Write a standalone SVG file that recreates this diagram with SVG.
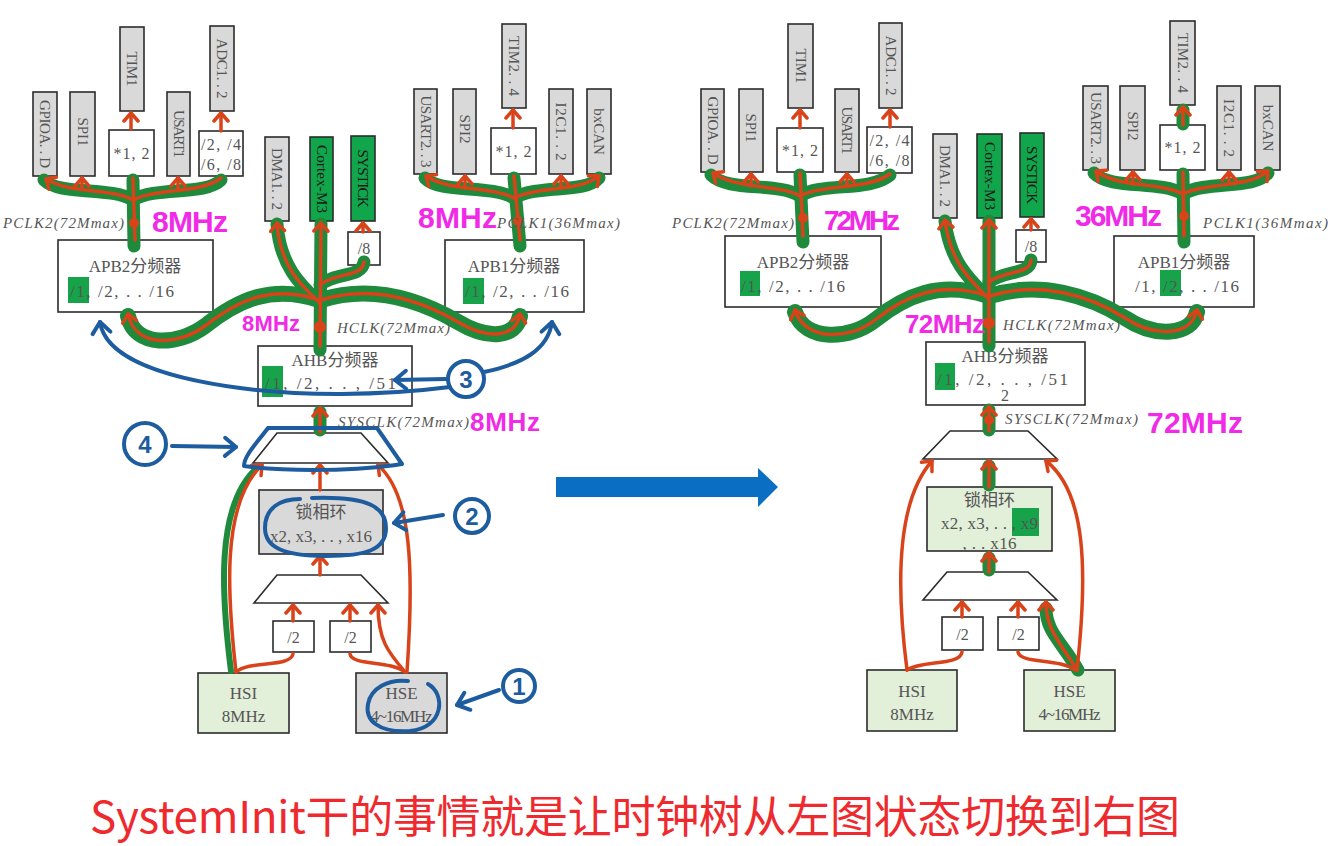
<svg xmlns="http://www.w3.org/2000/svg" width="1335" height="846" viewBox="0 0 1335 846">
<style>
.bx{stroke:#2b2b2b;stroke-width:1.6}
.gy{fill:#d9d9d9}.wh{fill:#fff}.gn{fill:#12a64c}.lg{fill:#e2efd9}
.t{font-family:"Liberation Serif","Noto Sans CJK SC",serif;font-size:15px;fill:#555;text-anchor:middle}
.ts{text-anchor:start}
.h{font-size:16px}
.k{font-size:17px}
.td{fill:#1a1a1a}
.it{font-family:"Liberation Serif",serif;font-style:italic;font-size:15px;fill:#555}
.g{stroke:#1f8a3b;stroke-width:13;fill:none;stroke-linecap:round;stroke-linejoin:round}
.gw{stroke-width:16}
.gt{stroke:#1f8a3b;stroke-width:6;fill:none;stroke-linecap:round}
.r{stroke:#d8431a;stroke-width:3.5;fill:none;stroke-linecap:round;stroke-linejoin:round}
.ra{marker-end:url(#ah)}
.dot{fill:#d8431a}
.hl{fill:#16a34a}
.b{stroke:#1d5c9e;stroke-width:4;fill:none;stroke-linecap:round;stroke-linejoin:round}
.bn{font-family:"Liberation Sans",sans-serif;font-size:24px;font-weight:bold;fill:#1d5c9e;text-anchor:middle}
.m{fill:#f02ae6;font-family:"Liberation Sans",sans-serif;font-weight:bold}
</style>
<defs>
<marker id="ah" markerUnits="userSpaceOnUse" markerWidth="18" markerHeight="18" viewBox="0 0 18 18" refX="12" refY="9" orient="auto">
<path d="M4,2 L12,9 L4,16" stroke="#d8431a" stroke-width="3.5" fill="none" stroke-linecap="round" stroke-linejoin="round"/>
</marker>
<marker id="bh" markerUnits="userSpaceOnUse" markerWidth="24" markerHeight="24" viewBox="0 0 24 24" refX="16" refY="12" orient="auto">
<path d="M5,3 L16,12 L5,21" stroke="#1d5c9e" stroke-width="4" fill="none" stroke-linecap="round" stroke-linejoin="round"/>
</marker>
</defs>
<rect width="1335" height="846" fill="#fff"/>

<!-- ===== LEFT DIAGRAM NODES ===== -->
<g id="L-GPIO"><rect class="bx gy" x="33" y="92" width="24" height="84"/><text class="t" transform="translate(45,134) rotate(90)" dy="5" textLength="68">GPIOA. . D</text></g>
<g id="L-SPI1"><rect class="bx gy" x="70" y="92" width="25" height="84"/><text class="t" transform="translate(82.5,132) rotate(90)" dy="5">SPI1</text></g>
<g id="L-TIM1"><rect class="bx gy" x="120" y="27" width="24" height="84"/><text class="t" transform="translate(132,69) rotate(90)" dy="5">TIM1</text></g>
<g id="L-MUL1"><rect class="bx wh" x="109" y="130" width="45" height="46"/><text class="t h" x="131.5" y="159" textLength="36">*1, 2</text></g>
<g id="L-USART1"><rect class="bx gy" x="167" y="92" width="23" height="84"/><text class="t" transform="translate(178.5,134) rotate(90)" dy="5" textLength="48">USART1</text></g>
<g id="L-ADCDIV"><rect class="bx wh" x="199" y="131" width="44" height="45"/><text class="t h" x="221" y="150" textLength="40">/2, /4</text><text class="t h" x="221" y="170" textLength="40">/6, /8</text></g>
<g id="L-ADC"><rect class="bx gy" x="210" y="26" width="24" height="85"/><text class="t" transform="translate(222,68.5) rotate(90)" dy="5" textLength="60">ADC1. . 2</text></g>
<g id="L-DMA"><rect class="bx gy" x="265" y="137" width="24" height="84"/><text class="t" transform="translate(277,179) rotate(90)" dy="5" textLength="62">DMA1. . 2</text></g>
<g id="L-CORTEX"><rect class="bx gn" x="310" y="137" width="23" height="84"/><text class="t td" transform="translate(321.5,179) rotate(90)" dy="5" textLength="68">Cortex-M3</text></g>
<g id="L-SYSTICK"><rect class="bx gn" x="351" y="136" width="24" height="85"/><text class="t td" transform="translate(363,178.5) rotate(90)" dy="5" textLength="58">SYSTICK</text></g>
<g id="L-DIV8"><rect class="bx wh" x="348" y="232" width="32" height="33"/><text class="t h" x="364" y="254">/8</text></g>
<g id="L-APB2"><rect class="bx wh" x="58" y="240" width="155" height="72"/><rect class="hl" x="68" y="277" width="21" height="26"/><text class="t k" x="135" y="272">APB2分频器</text><text class="t k ts" x="70" y="297" textLength="104">/1, /2, . . /16</text></g>
<g id="L-APB1"><rect class="bx wh" x="445" y="240" width="139" height="72"/><rect class="hl" x="463" y="278" width="21" height="26"/><text class="t k" x="514" y="272">APB1分频器</text><text class="t k ts" x="465" y="297" textLength="104">/1, /2, . . /16</text></g>
<g id="L-USART2"><rect class="bx gy" x="414" y="89" width="23" height="85"/><text class="t" transform="translate(425.5,131.5) rotate(90)" dy="5" textLength="72">USART2. . 3</text></g>
<g id="L-SPI2"><rect class="bx gy" x="453" y="89" width="23" height="85"/><text class="t" transform="translate(464.5,129) rotate(90)" dy="5">SPI2</text></g>
<g id="L-TIM2"><rect class="bx gy" x="502" y="24" width="24" height="84"/><text class="t" transform="translate(514,66) rotate(90)" dy="5" textLength="60">TIM2. . 4</text></g>
<g id="L-MUL2"><rect class="bx wh" x="491" y="128" width="45" height="46"/><text class="t h" x="513.5" y="157" textLength="36">*1, 2</text></g>
<g id="L-I2C"><rect class="bx gy" x="549" y="89" width="24" height="85"/><text class="t" transform="translate(561,131.5) rotate(90)" dy="5" textLength="58">I2C1. . 2</text></g>
<g id="L-CAN"><rect class="bx gy" x="587" y="89" width="24" height="85"/><text class="t" transform="translate(599,131.5) rotate(90)" dy="5">bxCAN</text></g>
<g id="L-AHB"><rect class="bx wh" x="258" y="346" width="154" height="60"/><rect class="hl" x="262" y="366" width="21" height="31"/><text class="t k" x="335" y="366">AHB分频器</text><text class="t k ts" x="265" y="389" textLength="131">/1, /2, . . , /51</text></g>
<g id="L-MUXU"><polygon class="bx wh" points="277,433 361,433 388,463 253,463"/></g>
<g id="L-PLL"><rect class="bx gy" x="259" y="490" width="124" height="64"/><text class="t k" x="321" y="518">锁相环</text><text class="t k" x="321" y="542" textLength="102">x2, x3, . . , x16</text></g>
<g id="L-MUXL"><polygon class="bx wh" points="277,575 361,575 388,603 254,603"/></g>
<g id="L-D2A"><rect class="bx wh" x="273" y="621" width="41" height="31"/><text class="t h" x="293.5" y="643">/2</text></g>
<g id="L-D2B"><rect class="bx wh" x="330" y="621" width="41" height="31"/><text class="t h" x="350.5" y="643">/2</text></g>
<g id="L-HSI"><rect class="bx lg" x="198" y="673" width="91" height="60"/><text class="t k" x="243.5" y="699">HSI</text><text class="t k" x="243.5" y="722">8MHz</text></g>
<g id="L-HSE"><rect class="bx gy" x="356" y="673" width="91" height="60"/><text class="t k" x="401.5" y="699">HSE</text><text class="t k" x="401.5" y="722" textLength="62">4~16MHz</text></g>

<!-- ===== RIGHT DIAGRAM NODES ===== -->
<g id="R-GPIO"><rect class="bx gy" x="701" y="89" width="23" height="83"/><text class="t" transform="translate(712.5,130.5) rotate(90)" dy="5" textLength="68">GPIOA. . D</text></g>
<g id="R-SPI1"><rect class="bx gy" x="739" y="89" width="24" height="83"/><text class="t" transform="translate(751,128) rotate(90)" dy="5">SPI1</text></g>
<g id="R-TIM1"><rect class="bx gy" x="788" y="24" width="25" height="84"/><text class="t" transform="translate(800.5,66) rotate(90)" dy="5">TIM1</text></g>
<g id="R-MUL1"><rect class="bx wh" x="777" y="128" width="46" height="44"/><text class="t h" x="800" y="156" textLength="36">*1, 2</text></g>
<g id="R-USART1"><rect class="bx gy" x="835" y="89" width="24" height="83"/><text class="t" transform="translate(847,130.5) rotate(90)" dy="5" textLength="48">USART1</text></g>
<g id="R-ADCDIV"><rect class="bx wh" x="867" y="127" width="45" height="46"/><text class="t h" x="889.5" y="146" textLength="40">/2, /4</text><text class="t h" x="889.5" y="166" textLength="40">/6, /8</text></g>
<g id="R-ADC"><rect class="bx gy" x="879" y="23" width="23" height="85"/><text class="t" transform="translate(890.5,65.5) rotate(90)" dy="5" textLength="60">ADC1. . 2</text></g>
<g id="R-DMA"><rect class="bx gy" x="933" y="134" width="24" height="84"/><text class="t" transform="translate(945,176) rotate(90)" dy="5" textLength="62">DMA1. . 2</text></g>
<g id="R-CORTEX"><rect class="bx gn" x="977" y="134" width="25" height="84"/><text class="t td" transform="translate(989.5,176) rotate(90)" dy="5" textLength="68">Cortex-M3</text></g>
<g id="R-SYSTICK"><rect class="bx gn" x="1020" y="133" width="24" height="84"/><text class="t td" transform="translate(1032,175) rotate(90)" dy="5" textLength="58">SYSTICK</text></g>
<g id="R-DIV8"><rect class="bx wh" x="1016" y="230" width="30" height="32"/><text class="t h" x="1031" y="252">/8</text></g>
<g id="R-APB2"><rect class="bx wh" x="725" y="236" width="156" height="71"/><rect class="hl" x="740" y="271" width="20" height="25"/><text class="t k" x="803" y="268">APB2分频器</text><text class="t k ts" x="741" y="292" textLength="104">/1, /2, . . /16</text></g>
<g id="R-APB1"><rect class="bx wh" x="1114" y="236" width="140" height="71"/><rect class="hl" x="1160" y="270" width="21" height="26"/><text class="t k" x="1184" y="268">APB1分频器</text><text class="t k ts" x="1135" y="292" textLength="104">/1, /2, . . /16</text></g>
<g id="R-USART2"><rect class="bx gy" x="1083" y="86" width="25" height="84"/><text class="t" transform="translate(1095.5,128) rotate(90)" dy="5" textLength="72">USART2. . 3</text></g>
<g id="R-SPI2"><rect class="bx gy" x="1120" y="86" width="25" height="84"/><text class="t" transform="translate(1132.5,126) rotate(90)" dy="5">SPI2</text></g>
<g id="R-TIM2"><rect class="bx gy" x="1170" y="21" width="25" height="84"/><text class="t" transform="translate(1182.5,63) rotate(90)" dy="5" textLength="60">TIM2. . 4</text></g>
<g id="R-MUL2"><rect class="bx wh" x="1160" y="125" width="45" height="45"/><text class="t h" x="1182.5" y="153" textLength="36">*1, 2</text></g>
<g id="R-I2C"><rect class="bx gy" x="1217" y="86" width="24" height="84"/><text class="t" transform="translate(1229,128) rotate(90)" dy="5" textLength="58">I2C1. . 2</text></g>
<g id="R-CAN"><rect class="bx gy" x="1255" y="86" width="25" height="84"/><text class="t" transform="translate(1267.5,128) rotate(90)" dy="5">bxCAN</text></g>
<g id="R-AHB"><rect class="bx wh" x="926" y="342" width="159" height="63"/><rect class="hl" x="935" y="363" width="20" height="27"/><text class="t k" x="1005" y="362">AHB分频器</text><text class="t k ts" x="937" y="385" textLength="131">/1, /2, . . , /51</text><text class="t h" x="1005" y="401">2</text></g>
<g id="R-MUXU"><polygon class="bx wh" points="950,431 1028,431 1057,459 923,459"/></g>
<g id="R-PLL"><rect class="bx lg" x="927" y="487" width="125" height="64"/><rect class="hl" x="1012" y="508" width="27" height="28"/><text class="t k" x="989.5" y="506">锁相环</text><text class="t k ts" x="941" y="529" textLength="97">x2, x3, . . , x9</text><text class="t k" x="989.5" y="549" textLength="54">, . . x16</text></g>
<g id="R-MUXL"><polygon class="bx wh" points="947,572 1028,572 1057,600 923,600"/></g>
<g id="R-D2A"><rect class="bx wh" x="942" y="617" width="41" height="33"/><text class="t h" x="962.5" y="640">/2</text></g>
<g id="R-D2B"><rect class="bx wh" x="998" y="617" width="41" height="33"/><text class="t h" x="1018.5" y="640">/2</text></g>
<g id="R-HSI"><rect class="bx lg" x="867" y="670" width="90" height="61"/><text class="t k" x="912" y="697">HSI</text><text class="t k" x="912" y="720">8MHz</text></g>
<g id="R-HSE"><rect class="bx lg" x="1024" y="670" width="91" height="61"/><text class="t k" x="1069.5" y="697">HSE</text><text class="t k" x="1069.5" y="720" textLength="62">4~16MHz</text></g>

<!-- ===== CONNECTORS ===== -->
<g id="connectors">
<!-- left green highlights -->
<path class="g" d="M134,246 L133,180"/>
<path class="g" d="M44,180 C60,196 110,186 133,200 C156,186 205,196 221,180"/>
<path class="g" d="M320,350 L321,224"/>
<path class="g" d="M319,302 C300,285 280,265 277,224"/>
<path class="g" d="M320,285 C335,272 362,278 364,262"/>
<path class="g gw" d="M319,300 C272,284 238,300 205,326 C178,346 135,348 128,316"/>
<path class="g gw" d="M321,300 C372,284 420,300 458,322 C488,340 516,338 520,316"/>
<path class="g" d="M320,430 L320,412"/>
<path class="g" d="M520,246 L514,178"/>
<path class="g" d="M425,178 C440,194 490,184 514,198 C538,184 585,194 599,178"/>
<path class="gt" d="M231,671 C222,600 214,505 258,467"/>
<!-- left red -->
<path class="r" d="M135,240 L133,178"/>
<path class="r ra" d="M133,200 C112,188 70,194 46,179"/>
<path class="r ra" d="M82,189 L82,178"/>
<path class="r" d="M133,200 C156,188 200,194 221,178"/>
<path class="r ra" d="M178,190 L178,178"/>
<path class="r ra" d="M131,129 L131,113"/>
<path class="r ra" d="M221,131 L221,113"/>
<circle class="dot" cx="134" cy="223" r="5"/>
<path class="r ra" d="M320,346 L321,223"/>
<path class="r ra" d="M319,302 C300,285 280,265 277,223"/>
<path class="r" d="M320,285 C335,272 362,278 364,262"/>
<path class="r ra" d="M363,232 L363,223"/>
<path class="r ra" d="M319,300 C272,284 238,300 205,326 C178,346 135,348 128,314"/>
<path class="r ra" d="M321,300 C372,284 420,300 458,322 C488,340 516,338 520,314"/>
<circle class="dot" cx="320" cy="327" r="6"/>
<path class="r ra" d="M320,432 L320,408"/>
<path class="r" d="M520,240 L514,176"/>
<path class="r ra" d="M514,198 C492,186 450,192 426,176"/>
<path class="r ra" d="M465,188 L465,176"/>
<path class="r ra" d="M514,198 C538,186 580,192 599,176"/>
<path class="r ra" d="M561,188 L561,176"/>
<path class="r ra" d="M513,128 L513,110"/>
<circle class="dot" cx="518" cy="221" r="5"/>
<path class="r ra" d="M236,672 C228,600 220,505 262,465"/>
<path class="r" d="M236,672 C250,660 290,668 293,654"/>
<path class="r ra" d="M293,621 L293,605"/>
<path class="r ra" d="M350,621 L350,605"/>
<path class="r" d="M405,672 C390,660 352,666 350,654"/>
<path class="r ra" d="M405,672 C388,652 378,640 378,605"/>
<path class="r ra" d="M407,672 C414,570 412,495 378,465"/>
<path class="r ra" d="M320,575 L320,556"/>
<path class="r ra" d="M320,490 L320,465"/>

<!-- right green highlights -->
<path class="g" d="M803,242 L800,175"/>
<path class="g" d="M711,175 C728,192 778,182 800,196 C822,182 870,192 890,175"/>
<path class="g" d="M989,346 L989,221"/>
<path class="g" d="M988,298 C970,280 950,262 945,221"/>
<path class="g" d="M989,282 C1005,270 1030,275 1031,260"/>
<path class="g gw" d="M988,296 C940,280 905,296 875,320 C850,340 805,342 795,312"/>
<path class="g gw" d="M990,296 C1040,280 1090,296 1125,318 C1155,338 1192,336 1197,312"/>
<path class="g" d="M1184,242 L1183,174"/>
<path class="g" d="M1094,173 C1110,190 1160,180 1183,194 C1206,180 1255,190 1268,173"/>
<path class="g" d="M1183,124 L1183,110"/>
<path class="g" d="M989,430 L989,410"/>
<path class="g" d="M989,485 L989,466"/>
<path class="g" d="M989,570 L989,558"/>
<path class="g" stroke-width="9" d="M1078,670 C1062,642 1046,632 1046,608"/>
<!-- right red -->
<path class="r" d="M803,236 L800,173"/>
<path class="r ra" d="M800,196 C780,184 738,190 713,173"/>
<path class="r ra" d="M751,186 L751,174"/>
<path class="r" d="M800,196 C822,184 868,190 890,174"/>
<path class="r ra" d="M847,186 L847,174"/>
<path class="r ra" d="M800,128 L800,110"/>
<path class="r ra" d="M890,127 L890,110"/>
<circle class="dot" cx="803" cy="218" r="5"/>
<path class="r ra" d="M989,342 L989,220"/>
<path class="r ra" d="M988,298 C970,280 950,262 945,220"/>
<path class="r" d="M989,282 C1005,270 1030,275 1031,260"/>
<path class="r ra" d="M1031,230 L1031,219"/>
<path class="r ra" d="M988,296 C940,280 905,296 875,320 C850,340 805,342 795,310"/>
<path class="r ra" d="M990,296 C1040,280 1090,296 1125,318 C1155,338 1192,336 1197,310"/>
<circle class="dot" cx="989" cy="323" r="6"/>
<path class="r" d="M1184,236 L1183,172"/>
<path class="r ra" d="M1183,194 C1160,182 1118,188 1096,171"/>
<path class="r ra" d="M1133,184 L1133,172"/>
<path class="r ra" d="M1183,194 C1206,182 1250,188 1268,171"/>
<path class="r ra" d="M1229,184 L1229,172"/>
<path class="r ra" d="M1183,125 L1183,107"/>
<circle class="dot" cx="1184" cy="216" r="5"/>
<path class="r ra" d="M989,431 L989,407"/>
<circle class="dot" cx="989" cy="420" r="5"/>
<path class="r ra" d="M989,487 L989,461"/>
<path class="r ra" d="M989,572 L989,553"/>
<path class="r ra" d="M907,670 C898,600 893,505 932,461"/>
<path class="r" d="M907,670 C922,660 960,666 962,652"/>
<path class="r ra" d="M962,617 L962,602"/>
<path class="r ra" d="M1018,617 L1018,602"/>
<path class="r" d="M1075,670 C1060,658 1020,664 1018,652"/>
<path class="r ra" d="M1077,670 C1060,642 1046,630 1046,602"/>
<path class="r ra" d="M1077,670 C1088,570 1086,492 1046,461"/>

<!-- blue annotations (left) -->
<path class="b" d="M268,428 L377,428 L402,464 C360,471 290,472 244,466 C244,456 256,444 268,428"/>
<circle class="b" cx="145" cy="444" r="21"/>
<text class="bn" x="145" y="453">4</text>
<path class="b" d="M172,446 L236,447" marker-end="url(#bh)"/>
<path class="b" d="M312,498 C370,496 386,508 386,528 C386,550 366,556 326,556 C285,556 265,548 265,528 C265,508 280,499 300,499"/>
<circle class="b" cx="472" cy="516" r="17"/>
<text class="bn" x="472" y="525">2</text>
<path class="b" d="M443,515 L394,523" marker-end="url(#bh)"/>
<path class="b" d="M428,684 C446,694 444,728 410,731 C378,733 365,720 368,704 C371,688 388,679 408,681"/>
<circle class="b" cx="519" cy="686" r="16"/>
<text class="bn" x="519" y="695">1</text>
<path class="b" d="M499,690 L457,705" marker-end="url(#bh)"/>
<circle class="b" cx="466" cy="379" r="18"/>
<text class="bn" x="466" y="388">3</text>
<path class="b" d="M446,379 L395,380" marker-end="url(#bh)"/>
<path class="b" d="M450,387 C380,396 300,396 240,388 C165,378 105,358 100,322" marker-end="url(#bh)"/>
<path class="b" d="M484,372 C522,364 548,350 552,322" marker-end="url(#bh)"/>
</g>

<!-- ===== CLOCK LABELS ===== -->
<g id="labels">
<text class="it" x="3" y="228" textLength="121">PCLK2(72Mmax)</text>
<text class="it" x="337" y="333" textLength="113">HCLK(72Mmax)</text>
<text class="it" x="497" y="228" textLength="123">PCLK1(36Mmax)</text>
<text class="it" x="338" y="427" textLength="131">SYSCLK(72Mmax)</text>
<text class="it" x="672" y="228" textLength="122">PCLK2(72Mmax)</text>
<text class="it" x="1003" y="330" textLength="117">HCLK(72Mmax)</text>
<text class="it" x="1203" y="228" textLength="125">PCLK1(36Mmax)</text>
<text class="it" x="1005" y="424" textLength="133">SYSCLK(72Mmax)</text>
<text class="m" x="152" y="232" font-size="30" textLength="76">8MHz</text>
<text class="m" x="418" y="228" font-size="30" textLength="79">8MHz</text>
<text class="m" x="242" y="331" font-size="22" textLength="58">8MHz</text>
<text class="m" x="470" y="431" font-size="26" textLength="70">8MHz</text>
<text class="m" x="824" y="230" font-size="28" textLength="76">72MHz</text>
<text class="m" x="1075" y="226" font-size="30" textLength="87">36MHz</text>
<text class="m" x="905" y="333" font-size="26" textLength="80">72MHz</text>
<text class="m" x="1147" y="433" font-size="30" textLength="96">72MHz</text>
</g>

<g id="big-arrow"><polygon fill="#0a6fc2" points="556,477 758,477 758,468 778,487 758,507 758,497 556,497"/></g>

<text x="90" y="833" font-family="Noto Sans CJK SC, sans-serif" font-size="44" fill="#ee2a2e" textLength="1090">SystemInit干的事情就是让时钟树从左图状态切换到右图</text>
</svg>
